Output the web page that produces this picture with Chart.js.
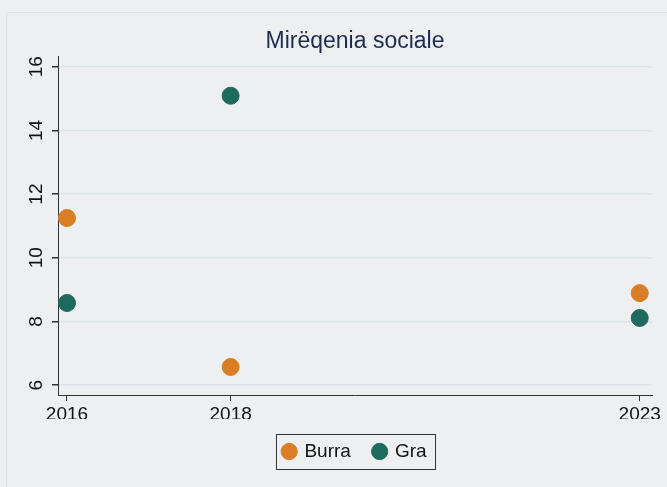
<!DOCTYPE html>
<html>
<head>
<meta charset="utf-8">
<title>Mirëqenia sociale</title>
<script src="https://cdn.jsdelivr.net/npm/chart.js@4.4.1/dist/chart.umd.min.js"></script>
<style>
  html, body { margin: 0; padding: 0; background: #edeff1; }
  #wrap { width: 667px; height: 487px; }
</style>
</head>
<body>
<div id="wrap"><canvas id="chart" width="667" height="487"></canvas></div>
<script>
// data
var years = [2016, 2018, 2023];
var burra = [11.25, 6.57, 8.89];
var gra = [8.58, 15.09, 8.11];
var yTicks = [6, 8, 10, 12, 14, 16];

function pts(vals) {
  return years.map(function (y, i) { return { x: y, y: vals[i] }; });
}

// faint outer frame + box round the legend
var framePlugin = {
  id: 'frame',
  beforeDraw: function (chart) {
    var c = chart.ctx;
    c.save();
    c.strokeStyle = '#dde4e7';
    c.lineWidth = 1;
    c.strokeRect(6.5, 12.5, 680, 500);
    c.restore();
  },
  afterDraw: function (chart) {
    var lg = chart.legend;
    if (!lg || !lg.legendHitBoxes.length) return;
    var b = lg.legendHitBoxes;
    var first = b[0], last = b[b.length - 1];
    var cy = first.top + first.height / 2;
    var left = Math.round(first.left - 6) - 0.5;
    var right = Math.round(last.left + last.width + 8) + 0.5;
    var c = chart.ctx;
    c.save();
    c.strokeStyle = '#333';
    c.lineWidth = 1;
    c.strokeRect(left, Math.round(cy) - 17.5, right - left, 35);
    c.restore();
  }
};

new Chart(document.getElementById('chart'), {
  type: 'scatter',
  data: {
    datasets: [
      { label: 'Burra', data: pts(burra), backgroundColor: '#d97e24', borderColor: '#d97e24', pointRadius: 8.5, pointHoverRadius: 8.5 },
      { label: 'Gra', data: pts(gra), backgroundColor: '#1e6a5e', borderColor: '#1e6a5e', pointRadius: 8.5, pointHoverRadius: 8.5 }
    ]
  },
  options: {
    responsive: false,
    animation: false,
    layout: { padding: { left: 0, right: 15, top: 6, bottom: 16 } },
    plugins: {
      title: {
        display: true,
        fullSize: false,
        text: 'Mirëqenia sociale',
        color: '#1c2b4e',
        font: { family: 'Liberation Sans', size: 23, weight: 'normal' },
        padding: { top: 22, bottom: 1 }
      },
      legend: {
        position: 'bottom',
        fullSize: false,
        labels: {
          usePointStyle: true,
          pointStyle: 'circle',
          boxWidth: 11.5,
          boxHeight: 11.5,
          color: '#111',
          font: { family: 'Liberation Sans', size: 19 },
          padding: 23
        }
      },
      tooltip: { enabled: false }
    },
    scales: {
      x: {
        type: 'linear',
        min: 2015.89,
        max: 2023.15,
        afterBuildTicks: function (s) { s.ticks = years.map(function (v) { return { value: v }; }); },
        afterFit: function (s) { s.height = 24; },
        ticks: {
          color: '#111',
          font: { family: 'Liberation Sans', size: 19 },
          padding: 2,
          maxRotation: 0,
          callback: function (v) { return String(v); }
        },
        grid: { drawOnChartArea: false, tickLength: 6, tickColor: '#333' },
        border: { display: true, color: '#333', width: 1 }
      },
      y: {
        min: 5.69,
        max: 16.32,
        afterBuildTicks: function (s) { s.ticks = yTicks.map(function (v) { return { value: v }; }); },
        afterFit: function (s) { s.width = 58; },
        ticks: {
          color: '#111',
          font: { family: 'Liberation Sans', size: 19 },
          padding: 5,
          minRotation: 90,
          maxRotation: 90,
          crossAlign: 'center'
        },
        grid: { color: '#d9e4e7', lineWidth: 1.5, tickLength: 6, tickColor: '#333' },
        border: { display: true, color: '#333', width: 1 }
      }
    }
  },
  plugins: [framePlugin]
});
</script>
</body>
</html>
